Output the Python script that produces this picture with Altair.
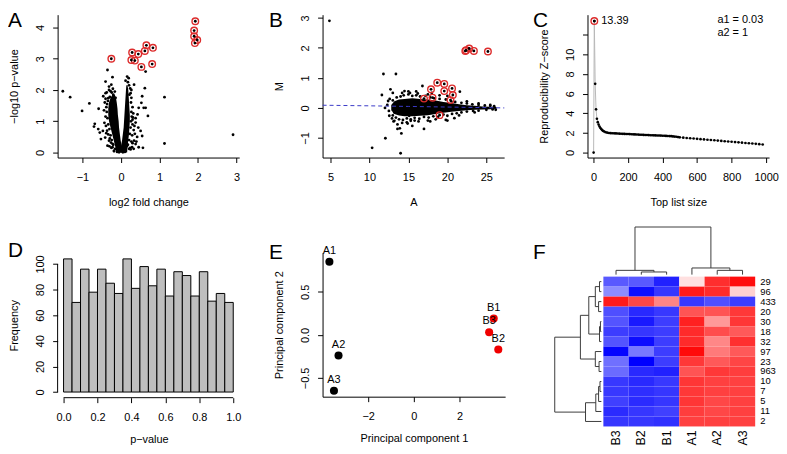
import altair as alt
import pandas as pd

FONT = "Liberation Sans"
RING = "#DD2C2C"

# ---------------- Panel A : volcano plot ----------------
a_hit_x = [-0.25, 0.29, 0.45, 0.27, 0.36, 0.66, 0.62, 0.83, 0.53, 0.81, 1.93, 1.90, 1.90, 1.98, 1.92]
a_hit_y = [3.00, 3.20, 3.15, 2.96, 2.94, 3.43, 3.25, 3.35, 2.74, 2.83, 4.20, 3.90, 3.72, 3.60, 3.50]
a_pt_x = [-1.51, -1.32, -1.01, -0.82, -0.58, -0.68, -0.70, -0.59, -0.55, -0.47, -0.41, -0.52, -0.38, -0.31, -0.35, -0.22,
          -0.35, -0.22, -0.40, -0.25, -0.31, -0.21, -0.27, -0.40, -0.20, -0.46, -0.33,
          0.16, 0.20, 0.34, 0.62, 0.64, 0.55, 0.53, 0.59, 0.70, 0.46, 0.43, 0.31, 0.38, 0.45, 0.51, 0.55, 0.42, 0.34, 0.38,
          0.46, 0.29, 0.21, 1.13, 1.13, 2.91, 0.57, 0.64,
          -0.36, -0.37, -0.35, -0.33, -0.30, -0.27, -0.24, -0.20, -0.15, -0.38, -0.34, -0.29,
          0.25, 0.26, 0.27, 0.26, 0.25, 0.23, 0.21, 0.18, 0.28, 0.24, 0.18,
          -0.10, 0.10, -0.25, 0.25, 0.30, -0.18, 0.14, -0.05, 0.05,
          -0.42, -0.44, -0.40, -0.43, -0.39, -0.36, -0.33, -0.29, -0.26, -0.30, -0.22, -0.18, -0.40, -0.37, -0.31, -0.24,
          -0.16, -0.14,
          0.27, 0.30, 0.32, 0.30, 0.33, 0.29, 0.36, 0.27, 0.24, 0.33, 0.40, 0.22, 0.27, 0.12, 0.21, 0.30, 0.38, 0.35,
          -0.08, 0.08, 0.15, -0.12]
a_pt_y = [1.96, 1.77, 1.33, 1.57, 1.40, 0.92, 0.83, 0.75, 0.64, 0.69, 0.48, 0.43, 0.62, 0.38, 0.22, 0.17,
          2.64, 2.41, 2.27, 2.17, 2.11, 2.04, 1.96, 1.90, 1.85, 1.80, 1.74,
          2.43, 2.38, 2.17, 2.06, 2.59, 1.80, 1.59, 1.43, 1.17, 1.43, 1.22, 1.12, 0.96, 0.80, 0.69, 0.53, 0.50, 0.38, 0.27,
          0.17, 0.17, 0.12, 1.77, 0.29, 0.57, 0.15, 1.43,
          1.55, 1.30, 1.10, 0.90, 0.75, 0.55, 0.40, 0.25, 0.12, 1.45, 1.65, 1.78,
          1.90, 1.60, 1.30, 1.00, 0.80, 0.60, 0.40, 0.25, 1.15, 2.05, 2.25,
          0.02, 0.02, 0.15, 0.10, 0.30, 0.05, 0.30, 0.01, 0.01,
          1.60, 1.35, 1.15, 0.95, 0.85, 0.70, 0.58, 0.45, 0.32, 0.20, 0.28, 0.05, 1.72, 1.92, 2.00, 1.92,
          1.95, 1.75,
          1.75, 1.45, 1.25, 0.90, 0.72, 0.55, 0.60, 0.35, 0.15, 0.12, 0.35, 1.85, 2.00, 2.30, 2.15, 1.05, 1.10, 0.85,
          0.08, 0.06, 0.20, 0.25]
a_left_y = [0.0, 0.2, 0.4, 0.6, 0.8, 1.0, 1.2, 1.4, 1.6, 1.75, 1.85]
a_left_lo = [-0.12, -0.15, -0.19, -0.23, -0.27, -0.31, -0.33, -0.33, -0.31, -0.27, -0.22]
a_left_hi = [0.05, 0.02, -0.01, -0.03, -0.05, -0.06, -0.08, -0.09, -0.11, -0.13, -0.16]
a_right_y = [0.0, 0.2, 0.4, 0.6, 0.8, 1.0, 1.2, 1.4, 1.6, 1.8, 2.0, 2.15]
a_right_lo = [-0.02, 0.00, 0.03, 0.05, 0.07, 0.08, 0.09, 0.10, 0.11, 0.12, 0.13, 0.14]
a_right_hi = [0.16, 0.17, 0.19, 0.21, 0.22, 0.23, 0.23, 0.22, 0.21, 0.20, 0.19, 0.17]

# ---------------- Panel B : MA plot ----------------
b_hit_x = [22.3, 22.4, 22.8, 23.4, 25.2, 18.7, 19.6, 20.6, 17.9, 19.6, 20.7, 18.1, 17.0, 20.4, 19.0]
b_hit_y = [1.90, 1.92, 1.98, 1.90, 1.88, 0.84, 0.80, 0.65, 0.62, 0.56, 0.43, 0.34, 0.31, 0.26, -0.24]
b_pt_x = [4.87, 10.35, 14.0, 12.05, 11.8, 13.4, 11.6, 12.7, 13.0, 14.5, 16.8, 21.6, 17.0, 13.6, 14.1, 13.9, 13.2, 12.55,
          12.0, 12.4, 15.1, 15.3, 20.9, 23.5,
          13.0, 13.5, 14.0, 14.4, 15.0, 15.5, 16.0, 16.5, 17.2, 17.8, 18.3, 19.0, 19.8, 20.5, 21.0, 21.8, 22.5, 23.2, 24.0,
          24.8, 25.5, 26.0,
          13.0, 13.4, 13.8, 14.3, 14.8, 15.3, 15.8, 16.4, 17.0, 17.6, 18.2, 18.8, 19.5, 20.0, 20.6, 21.2, 21.8, 22.5, 23.3,
          24.0, 25.0, 25.8,
          12.3, 12.5, 12.6, 12.9, 13.1, 13.6, 14.2, 14.9, 16.0, 15.5, 20.0, 17.5, 18.5, 19.8, 21.5, 15.0, 17.5, 18.0, 20.0,
          19.0, 22.5, 24.0, 25.5, 26.2, 16.3,
          14.2, 15.2, 16.2, 14.8, 15.8, 17.8, 13.5, 13.2]
b_pt_y = [2.90, -1.33, -1.51, -1.01, 1.13, 1.13, 0.43, 0.62, 0.50, 0.56, 0.73, 0.54, -0.70, -0.70, -0.85, -0.68, -0.43,
          -0.26, 0.00, 0.23, -0.26, -0.43, -0.34, -0.15,
          0.25, 0.35, 0.38, 0.42, 0.45, 0.40, 0.42, 0.38, 0.40, 0.35, 0.32, 0.30, 0.28, 0.22, 0.20, 0.17, 0.15, 0.12, 0.10,
          0.08, 0.07, 0.06,
          -0.25, -0.32, -0.38, -0.40, -0.35, -0.38, -0.33, -0.36, -0.30, -0.32, -0.28, -0.30, -0.22, -0.26, -0.20, -0.18,
          -0.15, -0.12, -0.10, -0.09, -0.06, -0.05,
          0.10, -0.10, 0.30, -0.35, -0.45, -0.55, -0.50, -0.52, 0.55, -0.60, -0.42, -0.42, -0.38, -0.40, -0.25, 0.55, 0.45,
          0.50, 0.40, 0.42, 0.22, 0.15, 0.10, -0.06, -0.45,
          0.50, 0.50, 0.48, -0.48, -0.42, -0.45, 0.15, -0.15]
b_band_x = [12.8, 13.2, 13.8, 14.5, 15.5, 16.5, 17.5, 18.5, 19.5, 20.5, 21.5, 22.5, 23.5, 24.5, 25.5, 26.3]
b_band_lo = [-0.08, -0.20, -0.25, -0.28, -0.28, -0.26, -0.24, -0.20, -0.16, -0.13, -0.10, -0.08, -0.06, -0.05, -0.04, -0.03]
b_band_hi = [0.10, 0.22, 0.28, 0.30, 0.32, 0.30, 0.28, 0.25, 0.20, 0.16, 0.12, 0.09, 0.07, 0.05, 0.04, 0.03]
b_fit_x = [4.0, 10.0, 15.0, 20.0, 25.0, 27.3]
b_fit_y = [0.09, 0.07, 0.05, 0.03, 0.01, 0.00]

# ---------------- Panel C : reproducibility ----------------
c_size = [1, 5, 10, 15, 20, 25, 30, 35, 40, 45, 50, 55, 60, 70, 80, 90, 100,
          110, 120, 130, 140, 150, 160, 170, 180, 190, 200, 210, 220, 230, 240, 250, 260, 270, 280, 290, 300,
          310, 320, 330, 340, 350, 360, 370, 380, 390, 400, 410, 420, 430, 440, 450, 460, 470, 480, 490, 500,
          520, 540, 560, 580, 600, 620, 640, 660, 680, 700, 720, 740, 760, 780, 800, 820, 840, 860, 880, 900,
          920, 940, 960, 980]
c_z = [0.0, 13.39, 7.0, 4.4, 3.45, 3.1, 2.85, 2.65, 2.5, 2.4, 2.3, 2.22, 2.16, 2.08, 2.03, 2.0, 1.98,
       1.97, 1.96, 1.95, 1.94, 1.93, 1.92, 1.91, 1.90, 1.895, 1.89, 1.88, 1.87, 1.86, 1.85, 1.84, 1.83, 1.82, 1.81, 1.80, 1.79,
       1.785, 1.78, 1.77, 1.76, 1.755, 1.75, 1.74, 1.735, 1.73, 1.72, 1.71, 1.70, 1.69, 1.68, 1.67, 1.65, 1.63, 1.61, 1.58, 1.55,
       1.52, 1.49, 1.46, 1.43, 1.40, 1.37, 1.34, 1.31, 1.28, 1.25, 1.22, 1.19, 1.16, 1.13, 1.10, 1.07, 1.04, 1.01, 0.98, 0.95,
       0.92, 0.89, 0.86, 0.82]
c_best = [5, 13.39]
c_note_text = ["a1 = 0.03", "a2 = 1"]
c_note_x = [718, 718]
c_note_y = [13.54, 12.22]

# ---------------- Panel D : p-value histogram ----------------
d_start = [0.00, 0.05, 0.10, 0.15, 0.20, 0.25, 0.30, 0.35, 0.40, 0.45, 0.50, 0.55, 0.60, 0.65, 0.70, 0.75, 0.80, 0.85, 0.90, 0.95]
d_count = [104, 70, 96, 78, 96, 85, 77, 104, 81, 98, 83, 96, 75, 94, 91, 75, 94, 71, 77, 70]

# ---------------- Panel E : PCA ----------------
e_name = ["A1", "A2", "A3", "B1", "B2", "B3"]
e_pc1 = [-3.7, -3.3, -3.5, 3.5, 3.7, 3.3]
e_pc2 = [0.85, -0.24, -0.65, 0.19, -0.17, 0.03]
e_grp = ["A", "A", "A", "B", "B", "B"]

# ---------------- Panel F : heatmap ----------------
f_cols = ["B3", "B2", "B1", "A1", "A2", "A3"]
f_rows = ["29", "96", "433", "20", "30", "18", "32", "97", "23", "963", "10", "7", "5", "11", "2"]
f_vals = [
    [-0.65, -0.65, -0.87, 0.12, 0.82, 0.95],
    [-0.45, -0.94, -0.79, 0.90, 0.83, 0.18],
    [0.90, 0.72, 0.48, -0.78, -0.69, -0.76],
    [-0.69, -0.84, -0.78, 0.67, 0.67, 0.78],
    [-0.67, -0.90, -0.76, 0.87, 0.40, 0.79],
    [-0.76, -0.79, -0.76, 0.83, 0.70, 0.65],
    [-0.67, -0.95, -0.76, 0.83, 0.47, 0.81],
    [-0.98, -0.53, -0.76, 0.96, 0.52, 0.65],
    [-0.56, -1.00, -0.76, 0.78, 0.65, 0.73],
    [-0.58, -0.84, -0.87, 0.67, 0.78, 0.76],
    [-0.78, -0.84, -0.78, 0.79, 0.75, 0.75],
    [-0.78, -0.82, -0.79, 0.78, 0.75, 0.75],
    [-0.75, -0.83, -0.79, 0.79, 0.72, 0.75],
    [-0.83, -0.79, -0.75, 0.76, 0.72, 0.75],
    [-0.79, -0.79, -0.81, 0.75, 0.75, 0.75],
]
f_col_merges = [("B2", "B1", 0.56), ("B3", "m0", 0.9), ("A2", "A3", 0.9), ("A1", "m2", 1.4), ("m1", "m3", 10.0)]
f_row_merges = [("29", "96", 0.4), ("433", "20", 0.6), ("m0", "m1", 1.3), ("30", "18", 0.2), ("m3", "32", 0.4),
                ("m2", "m4", 2.7), ("23", "963", 0.5), ("97", "m6", 1.3), ("m5", "m7", 4.5), ("10", "7", 0.3),
                ("m9", "5", 0.6), ("m10", "11", 1.2), ("m11", "2", 3.4), ("m8", "m12", 10.0)]


# ================= helpers =================
def xax(title, values, fmt=None, tp=14, domain=True, lexpr=None):
    kw = dict(title=title, values=values, grid=False, domain=domain, labelPadding=9, titlePadding=tp)
    if fmt:
        kw["format"] = fmt
    if lexpr:
        kw["labelExpr"] = lexpr
    return alt.Axis(**kw)


def yax(title, values, fmt=None, tp=15, domain=True, lexpr=None):
    kw = dict(title=title, values=values, grid=False, domain=domain, labelAngle=-90, labelAlign="center",
              labelBaseline="bottom", labelPadding=7, titlePadding=tp)
    if fmt:
        kw["format"] = fmt
    if lexpr:
        kw["labelExpr"] = lexpr
    return alt.Axis(**kw)


def lin(d):
    return alt.Scale(domain=d, nice=False, zero=False)


def letter(ch, dx, dy):
    return alt.Chart(pd.DataFrame({"t": [ch]})).mark_text(
        font=FONT, fontSize=21, align="left", baseline="top", color="black"
    ).encode(text="t:N", x=alt.value(dx), y=alt.value(dy))


def dendro(order, merges):
    pos = {k: float(i) for i, k in enumerate(order)}
    hgt = {k: 0.0 for k in order}
    segs = []
    for i, (a, b, h) in enumerate(merges):
        pa, pb = pos[a], pos[b]
        segs.append((pa, hgt[a], pa, h))
        segs.append((pb, hgt[b], pb, h))
        segs.append((pa, h, pb, h))
        pos["m%d" % i] = (pa + pb) / 2
        hgt["m%d" % i] = h
    return pd.DataFrame(segs, columns=["p1", "h1", "p2", "h2"])


def ring_layers(df, X, Y):
    ring = alt.Chart(df).mark_point(shape="circle", filled=False, size=44, color=RING, strokeWidth=1.4,
                                    opacity=1).encode(x=X, y=Y)
    dot = alt.Chart(df).mark_circle(size=8, color="black", opacity=1).encode(x=X, y=Y)
    return [ring, dot]


# ================= Panel A =================
sAx, sAy = lin([-1.645, 3.07]), lin([-0.16, 4.41])
axAx = xax("log2 fold change", [-1, 0, 1, 2, 3])
axAy = yax("\u2212log10 p\u2212value", [0, 1, 2, 3, 4])
XA = lambda f: alt.X(f, type="quantitative", scale=sAx, axis=axAx)
YA = lambda f: alt.Y(f, type="quantitative", scale=sAy, axis=axAy)
dfA_l = pd.DataFrame({"y": a_left_y, "lo": a_left_lo, "hi": a_left_hi})
dfA_r = pd.DataFrame({"y": a_right_y, "lo": a_right_lo, "hi": a_right_hi})
dfA_p = pd.DataFrame({"x": a_pt_x, "y": a_pt_y})
dfA_h = pd.DataFrame({"x": a_hit_x, "y": a_hit_y})
areaL = alt.Chart(dfA_l).mark_area(orient="horizontal", color="black").encode(y=YA("y"), x=XA("lo"), x2="hi")
areaR = alt.Chart(dfA_r).mark_area(orient="horizontal", color="black").encode(y=YA("y"), x=XA("lo"), x2="hi")
ptsA = alt.Chart(dfA_p).mark_circle(size=8, color="black", opacity=1).encode(x=XA("x"), y=YA("y"))
panelA = alt.layer(areaL, areaR, ptsA, *ring_layers(dfA_h, XA("x"), YA("y")), letter("A", -50, -5)).properties(
    width=183, height=144)

# ================= Panel B =================
sBx, sBy = lin([3.99, 27.28]), lin([-1.653, 3.107])
axBx = xax("A", [5, 10, 15, 20, 25])
axBy = yax("M", [-1, 0, 1, 2, 3])
XB = lambda f: alt.X(f, type="quantitative", scale=sBx, axis=axBx)
YB = lambda f: alt.Y(f, type="quantitative", scale=sBy, axis=axBy)
dfB_band = pd.DataFrame({"x": b_band_x, "lo": b_band_lo, "hi": b_band_hi})
dfB_p = pd.DataFrame({"x": b_pt_x, "y": b_pt_y})
dfB_h = pd.DataFrame({"x": b_hit_x, "y": b_hit_y})
dfB_f = pd.DataFrame({"x": b_fit_x, "y": b_fit_y})
bandB = alt.Chart(dfB_band).mark_area(color="black").encode(x=XB("x"), y=YB("lo"), y2="hi")
ptsB = alt.Chart(dfB_p).mark_circle(size=8, color="black", opacity=1).encode(x=XB("x"), y=YB("y"))
fitB = alt.Chart(dfB_f).mark_line(color="#3A3AC8", strokeWidth=1, strokeDash=[4, 3]).encode(x=XB("x"), y=YB("y"))
panelB = alt.layer(bandB, ptsB, *ring_layers(dfB_h, XB("x"), YB("y")), fitB, letter("B", -54, -5)).properties(
    width=183, height=144)

# ================= Panel C =================
sCx, sCy = lin([-34.5, 1017]), lin([-0.505, 14.04])
axCx = xax("Top list size", [0, 200, 400, 600, 800, 1000], fmt="d")
axCy = yax("Reproducibility Z\u2212score", [0, 2, 4, 6, 8, 10, 12], lexpr="datum.value == 12 ? '' : datum.label")
XC = lambda f: alt.X(f, type="quantitative", scale=sCx, axis=axCx)
YC = lambda f: alt.Y(f, type="quantitative", scale=sCy, axis=axCy)
dfC = pd.DataFrame({"x": c_size, "y": c_z})
dfC_b = pd.DataFrame({"x": [c_best[0]], "y": [c_best[1]], "t": ["%.2f" % c_best[1]]})
dfC_n = pd.DataFrame({"x": c_note_x, "y": c_note_y, "t": c_note_text})
lineC = alt.Chart(dfC).mark_line(color="#B8B8B8", strokeWidth=1).encode(x=XC("x"), y=YC("y"))
ptsC = alt.Chart(dfC).mark_circle(size=7, color="black", opacity=1).encode(x=XC("x"), y=YC("y"))
bestLab = alt.Chart(dfC_b).mark_text(font=FONT, fontSize=11, align="left", baseline="middle", dx=7,
                                     color="black").encode(x=XC("x"), y=YC("y"), text="t:N")
notes = alt.Chart(dfC_n).mark_text(font=FONT, fontSize=11, align="left", baseline="middle",
                                   color="black").encode(x=XC("x"), y=YC("y"), text="t:N")
panelC = alt.layer(lineC, ptsC, *ring_layers(dfC_b, XC("x"), YC("y")), bestLab, notes,
                   letter("C", -55, -5)).properties(width=183, height=144)

# ================= Panel D =================
sDx, sDy = lin([-0.035, 1.041]), lin([-4.4, 108.76])
axDx = xax("p\u2212value", [0, 0.2, 0.4, 0.6, 0.8, 1.0], fmt=".1f", domain=False, tp=11)
axDy = yax("Frequency", [0, 20, 40, 60, 80, 100], domain=False)
dfD = pd.DataFrame({"start": d_start, "end": [s + 0.05 for s in d_start], "count": d_count})
one = pd.DataFrame({"k": [0]})
barsD = alt.Chart(dfD).mark_rect(color="#BEBEBE", stroke="black", strokeWidth=1).encode(
    x=alt.X("start:Q", scale=sDx, axis=axDx), x2="end:Q",
    y=alt.Y("count:Q", scale=sDy, axis=axDy), y2=alt.datum(0))
ruleDy = alt.Chart(one).mark_rule(color="black", strokeWidth=1).encode(
    x=alt.value(0), y=alt.Y(datum=0, scale=sDy, axis=axDy), y2=alt.datum(100))
ruleDx = alt.Chart(one).mark_rule(color="black", strokeWidth=1).encode(
    y=alt.value(146), x=alt.X(datum=0, scale=sDx, axis=axDx), x2=alt.datum(1))
panelD = alt.layer(barsD, ruleDy, ruleDx, letter("D", -50, -13)).properties(width=184, height=146)

# ================= Panel E =================
sEx, sEy = lin([-4.0, 4.0]), lin([-0.718, 0.954])
axEx = xax("Principal component 1", [-2, 0, 2], tp=11)
axEy = yax("Principal component 2", [-0.5, 0, 0.5], fmt=".1f")
dfE = pd.DataFrame({"name": e_name, "pc1": e_pc1, "pc2": e_pc2, "grp": e_grp})
XE = alt.X("pc1:Q", scale=sEx, axis=axEx)
YE = alt.Y("pc2:Q", scale=sEy, axis=axEy)
ptsE = alt.Chart(dfE).mark_circle(size=66, opacity=1).encode(
    x=XE, y=YE, color=alt.Color("grp:N", scale=alt.Scale(domain=["A", "B"], range=["black", "#F00000"]), legend=None))
labE = alt.Chart(dfE).mark_text(font=FONT, fontSize=11, dy=-11, color="black").encode(x=XE, y=YE, text="name:N")
panelE = alt.layer(ptsE, labE, letter("E", -54, -11)).properties(width=184, height=145)

# ================= Panel F (origin at page x 592) =================
heat_rows = []
for r, vals in zip(f_rows, f_vals):
    for c, v in zip(f_cols, vals):
        heat_rows.append({"row": r, "col": c, "v": v})
dfF = pd.DataFrame(heat_rows)
HX = [16, 169]
HY = [24, 175]
colScale = alt.Scale(domain=[-0.5, 5.5], range=HX, nice=False, zero=False)
rowScale = alt.Scale(domain=[-0.5, 14.5], range=HY, nice=False, zero=False)
heat = alt.Chart(dfF).mark_rect().encode(
    x=alt.X("col:N", sort=f_cols, scale=alt.Scale(domain=f_cols, range=HX, paddingInner=0, paddingOuter=0),
            axis=None),
    y=alt.Y("row:N", sort=f_rows, scale=alt.Scale(domain=f_rows, range=HY, paddingInner=0, paddingOuter=0),
            axis=None),
    color=alt.Color("v:Q", scale=alt.Scale(domain=[-1, 0, 1], range=["#0000FF", "#FFFFFF", "#FF0000"],
                                           interpolate="rgb"), legend=None))
dfCD = dendro(f_cols, f_col_merges)
dfRD = dendro(f_rows, f_row_merges)
colDen = alt.Chart(dfCD).mark_rule(color="#3C3C3C", strokeWidth=1).encode(
    x=alt.X("p1:Q", scale=colScale, axis=None), x2="p2:Q",
    y=alt.Y("h1:Q", scale=alt.Scale(domain=[0, 10], range=[22, -26], nice=False, zero=False), axis=None), y2="h2:Q")
rowDen = alt.Chart(dfRD).mark_rule(color="#3C3C3C", strokeWidth=1).encode(
    y=alt.Y("p1:Q", scale=rowScale, axis=None), y2="p2:Q",
    x=alt.X("h1:Q", scale=alt.Scale(domain=[0, 10], range=[14, -33], nice=False, zero=False), axis=None), x2="h2:Q")
dfRL = pd.DataFrame({"t": f_rows, "pos": list(range(len(f_rows)))})
dfCL = pd.DataFrame({"t": f_cols, "pos": list(range(len(f_cols)))})
rowLab = alt.Chart(dfRL).mark_text(font=FONT, fontSize=9.5, align="left", baseline="middle", color="black").encode(
    y=alt.Y("pos:Q", scale=rowScale, axis=None), x=alt.value(174), text="t:N")
colLab = alt.Chart(dfCL).mark_text(font=FONT, fontSize=12.5, align="right", baseline="middle", angle=270,
                                   color="black").encode(
    x=alt.X("pos:Q", scale=colScale, axis=None), y=alt.value(179), text="t:N")
panelF = alt.layer(heat, colDen, rowDen, rowLab, colLab, letter("F", -55, -11)).resolve_scale(
    x="independent", y="independent").properties(width=169, height=175)

# ================= layout =================
chart = alt.concat(panelA, panelB, panelC, panelD, panelE, panelF, columns=3,
                   spacing={"row": 96, "column": 83}, bounds="flush").properties(padding=0, background="white")
chart = chart.configure_view(stroke=None).configure_axis(
    domainColor="black", domainWidth=1, tickColor="black", tickWidth=1, tickSize=5,
    labelFont=FONT, labelFontSize=11, labelColor="black", labelFlush=False, labelOverlap=False,
    titleFont=FONT, titleFontSize=11, titleFontWeight="normal", titleColor="black")

chart.save("out.html", embed_options={"renderer": "svg", "actions": False})
